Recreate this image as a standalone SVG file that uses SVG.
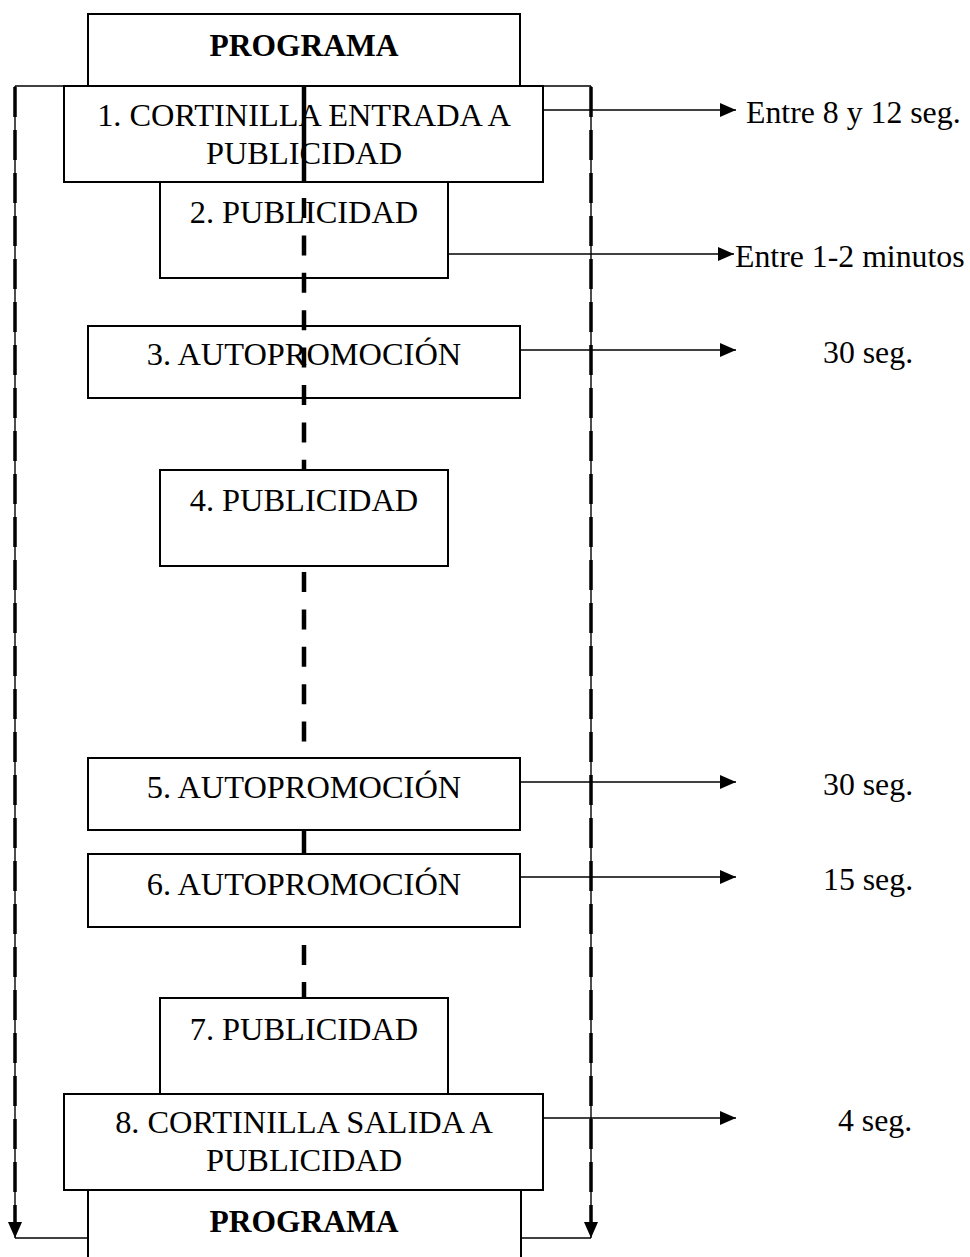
<svg xmlns="http://www.w3.org/2000/svg" width="970" height="1257" viewBox="0 0 970 1257">
  <style>
    .box { fill: #ffffff; stroke: #000000; stroke-width: 2; }
    .lbl { font-family: "Liberation Serif", "Times New Roman", serif; font-size: 31.8px; fill: #000000; }
    .mid { text-anchor: middle; font-size: 32.4px; }
    .bold { font-weight: bold; font-size: 31.5px; }
    .arrow { stroke: #000000; stroke-width: 1.6; fill: none; }
    .spine { stroke: #000000; stroke-width: 4.5; fill: none; }
    .rail { stroke: #000000; stroke-width: 1.4; fill: none; }
    .rail-dash { stroke: #000000; stroke-width: 3.5; fill: none; stroke-dasharray: 30 13; }
  </style>
  <defs>
    <marker id="head" markerUnits="userSpaceOnUse" markerWidth="17" markerHeight="15" refX="16" refY="7" orient="auto">
      <path d="M0,0 L16,7 L0,14 z" fill="#000000"/>
    </marker>
  </defs>

  <rect width="970" height="1257" fill="#ffffff"/>

  <!-- outer return rails -->
  <g id="rails">
    <path class="rail" d="M15,86 H591"/>
    <path class="rail" d="M15,86 V1238" marker-end="url(#head)"/>
    <path class="rail-dash" d="M15,87 V1222"/>
    <path class="rail" d="M591,86 V1238" marker-end="url(#head)"/>
    <path class="rail-dash" d="M591,87 V1222"/>
    <path class="rail" d="M15,1238 H88"/>
    <path class="rail" d="M521,1238 H591"/>
  </g>

  <g id="programa-top">
    <rect class="box" x="88" y="14" width="432" height="72"/>
    <text class="lbl mid bold" x="304" y="56">PROGRAMA</text>
  </g>

  <g id="n1">
    <rect class="box" x="64" y="86" width="479" height="96"/>
    <text class="lbl mid" x="304" y="126">1. CORTINILLA ENTRADA A</text>
    <text class="lbl mid" x="304" y="164">PUBLICIDAD</text>
  </g>

  <g id="n2">
    <rect class="box" x="160" y="182" width="288" height="96"/>
    <text class="lbl mid" x="304" y="223">2. PUBLICIDAD</text>
  </g>

  <g id="n3">
    <rect class="box" x="88" y="326" width="432" height="72"/>
    <text class="lbl mid" x="304" y="365">3. AUTOPROMOCIÓN</text>
  </g>

  <!-- central spine -->
  <g id="spine">
    <path class="spine" d="M304,86 V182"/>
    <path class="spine" d="M304,182 V760" stroke-dasharray="20 17.4" stroke-dashoffset="21.4"/>
    <path class="spine" d="M304,830 V854"/>
    <path class="spine" d="M304,927 V998" stroke-dasharray="20 17" stroke-dashoffset="19"/>
  </g>

  <g id="n4">
    <rect class="box" x="160" y="470" width="288" height="96"/>
    <text class="lbl mid" x="304" y="511">4. PUBLICIDAD</text>
  </g>

  <g id="n5">
    <rect class="box" x="88" y="758" width="432" height="72"/>
    <text class="lbl mid" x="304" y="798">5. AUTOPROMOCIÓN</text>
  </g>

  <g id="n6">
    <rect class="box" x="88" y="854" width="432" height="73"/>
    <text class="lbl mid" x="304" y="895">6. AUTOPROMOCIÓN</text>
  </g>

  <g id="n7">
    <rect class="box" x="160" y="998" width="288" height="96"/>
    <text class="lbl mid" x="304" y="1040">7. PUBLICIDAD</text>
  </g>

  <g id="n8">
    <rect class="box" x="64" y="1094" width="479" height="96"/>
    <text class="lbl mid" x="304" y="1133">8. CORTINILLA SALIDA A</text>
    <text class="lbl mid" x="304" y="1171">PUBLICIDAD</text>
  </g>

  <g id="programa-bottom">
    <rect class="box" x="88" y="1190" width="433" height="100"/>
    <text class="lbl mid bold" x="304" y="1232">PROGRAMA</text>
  </g>

  <!-- duration arrows -->
  <g id="connectors">
    <path class="arrow" d="M543,110 H736" marker-end="url(#head)"/>
    <path class="arrow" d="M448,254 H734" marker-end="url(#head)"/>
    <path class="arrow" d="M520,350 H736" marker-end="url(#head)"/>
    <path class="arrow" d="M520,782 H736" marker-end="url(#head)"/>
    <path class="arrow" d="M520,877 H736" marker-end="url(#head)"/>
    <path class="arrow" d="M543,1118 H736" marker-end="url(#head)"/>
  </g>

  <g id="durations">
    <text class="lbl" x="746" y="123">Entre 8 y 12 seg.</text>
    <text class="lbl" x="735" y="267">Entre 1-2 minutos</text>
    <text class="lbl" x="823" y="363">30 seg.</text>
    <text class="lbl" x="823" y="795">30 seg.</text>
    <text class="lbl" x="823" y="890">15 seg.</text>
    <text class="lbl" x="838" y="1131">4 seg.</text>
  </g>
</svg>
